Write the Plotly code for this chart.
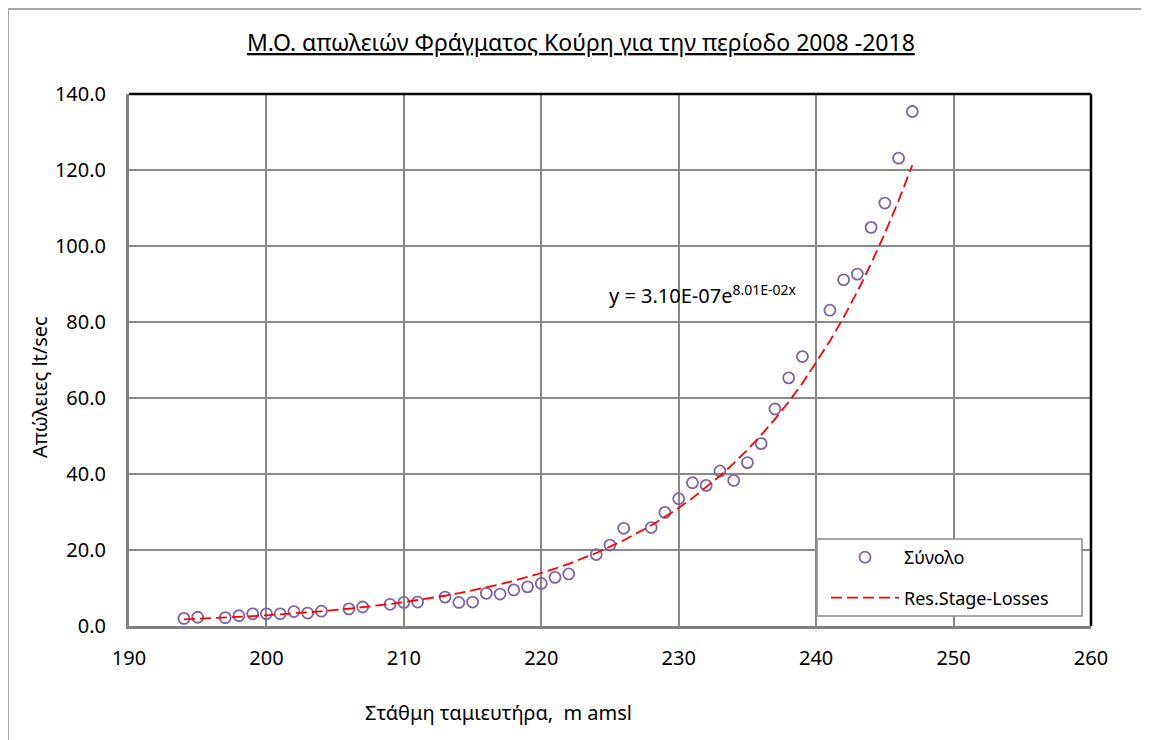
import numpy as np
import plotly.graph_objects as go

# ---- data ----
stage_m = [194, 195, 197, 198, 199, 200, 201, 202, 203, 204, 206, 207, 209, 210, 211,
           213, 214, 215, 216, 217, 218, 219, 220, 221, 222, 224, 225, 226, 228, 229,
           230, 231, 232, 233, 234, 235, 236, 237, 238, 239, 241, 242, 243, 244, 245,
           246, 247]
losses_lts = [2.0, 2.3, 2.2, 2.7, 3.2, 3.2, 3.2, 3.8, 3.4, 3.9, 4.5, 5.0, 5.7, 6.2, 6.3,
              7.6, 6.2, 6.3, 8.6, 8.4, 9.5, 10.3, 11.2, 12.8, 13.7, 18.8, 21.3, 25.7, 25.9, 29.9,
              33.5, 37.7, 37.0, 40.8, 38.3, 43.0, 48.0, 57.1, 65.3, 70.9, 83.1, 91.1, 92.6, 104.9, 111.3,
              123.1, 135.4]

# exponential trendline shown on the chart: y = 3.10E-07 * e^(8.01E-02 x)
TREND_A = 3.10e-07
TREND_B = 8.01e-02

x_ticks = [190, 200, 210, 220, 230, 240, 250, 260]
y_ticks = [0, 20, 40, 60, 80, 100, 120, 140]

title_text = "Μ.Ο. απωλειών Φράγματος Κούρη για την περίοδο 2008 -2018"
x_title = "Στάθμη ταμιευτήρα,\u00a0 m amsl"
y_title = "Απώλειες lt/sec"
series_name = "Σύνολο"
trend_name = "Res.Stage-Losses"
equation = "y = 3.10E-07e<sup>8.01E-02x</sup>"

FONT = "Noto Sans"

trend_x = np.array(stage_m, dtype=float)
trend_y = TREND_A * np.exp(TREND_B * trend_x)

fig = go.Figure()
fig.add_trace(go.Scatter(
    x=stage_m, y=losses_lts, mode="markers", name=series_name, legendgroup="a",
    marker=dict(symbol="circle-open", size=11, color="#8064A2", line=dict(width=1.8, color="#8064A2")),
))
fig.add_trace(go.Scatter(
    x=trend_x, y=trend_y, mode="lines", name=trend_name, legendgroup="b",
    line=dict(color="#FF0000", width=1.8, dash="11px,5px"),
))

# page body has an 8px margin: positions below are in screen pixels, converted
OFF = 8
W, H = 1141, 732
L, T = 129 - OFF, 94 - OFF
R = W - (1091 - OFF)
B = H - (626 - OFF)
PW = W - L - R
PH = H - T - B


def px(xs):
    return (xs - OFF - L) / PW


def py(ys):
    return (H - B - (ys - OFF)) / PH


fig.update_layout(
    width=W, height=H,
    margin=dict(l=L, r=R, t=T, b=B),
    paper_bgcolor="white", plot_bgcolor="white",
    font=dict(family=FONT, size=20, color="black"),
    showlegend=True,
    legend=dict(
        x=px(826), y=py(539), xanchor="left", yanchor="top",
        bgcolor="rgba(0,0,0,0)", borderwidth=0,
        font=dict(family=FONT, size=18, color="black"),
        itemwidth=68, tracegroupgap=14,
    ),
    xaxis=dict(
        range=[190, 260], tickvals=x_ticks, showgrid=True, gridcolor="#888888", gridwidth=2,
        showline=True, linecolor="#808080", linewidth=3, zeroline=False, ticks="",
        ticklabelstandoff=12, tickfont=dict(size=20),
    ),
    yaxis=dict(
        range=[0, 140], tickvals=y_ticks, tickformat=".1f", showgrid=True, gridcolor="#888888",
        gridwidth=2, showline=True, linecolor="#808080", linewidth=3, zeroline=False, ticks="",
        ticklabelstandoff=16, tickfont=dict(size=20),
    ),
    shapes=[
        dict(type="line", xref="x domain", yref="y domain", x0=0, x1=1, y0=1, y1=1,
             line=dict(color="black", width=2.5)),
        dict(type="line", xref="x domain", yref="y domain", x0=1, x1=1, y0=0, y1=1,
             line=dict(color="black", width=2.5)),
        # legend frame
        dict(type="rect", xref="paper", yref="paper",
             x0=px(817), x1=px(1082), y0=py(616), y1=py(539),
             line=dict(color="#8c8c8c", width=1.5), fillcolor="white", layer="above"),
        # outer chart border
        dict(type="rect", xref="paper", yref="paper",
             x0=px(8), x1=px(1170), y0=py(760), y1=py(9),
             line=dict(color="#a6a6a6", width=2), fillcolor="rgba(0,0,0,0)", layer="below"),
    ],
    annotations=[
        dict(text="<u>" + title_text + "</u>", xref="paper", yref="paper",
             x=px(581), y=py(42), xanchor="center", yanchor="middle",
             showarrow=False, font=dict(family=FONT, size=23)),
        dict(text=x_title, xref="paper", yref="paper",
             x=px(498), y=py(712), xanchor="center", yanchor="middle",
             showarrow=False, font=dict(family=FONT, size=20)),
        dict(text=y_title, xref="paper", yref="paper", textangle=-90,
             x=px(39), y=py(387), xanchor="center", yanchor="middle",
             showarrow=False, font=dict(family=FONT, size=20)),
        dict(text=equation, xref="paper", yref="paper",
             x=px(607), y=py(294), xanchor="left", yanchor="middle",
             showarrow=False, font=dict(family=FONT, size=20)),
    ],
)

fig.write_html("out.html")
